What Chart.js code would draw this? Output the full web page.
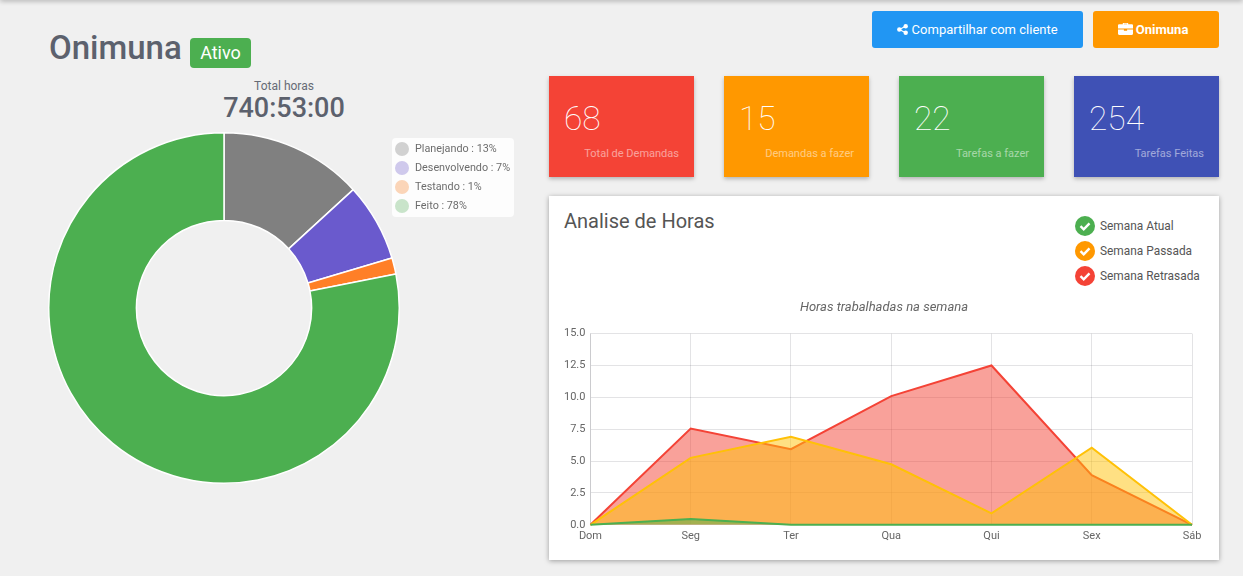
<!DOCTYPE html>
<html lang="pt"><head><meta charset="utf-8">
<style>
html,body{margin:0;padding:0;width:1243px;height:576px;overflow:hidden;background:#f0f0f0;font-family:Roboto,sans-serif;color:#555}
.a{position:absolute;white-space:nowrap}
#bar{position:absolute;left:0;right:0;top:-4px;height:4px;box-shadow:0 1px 5px rgba(0,0,0,.3)}
.btn{position:absolute;top:11px;height:37px;line-height:37px;border-radius:3px;color:#fff;font-size:13px;text-align:center}
.tile{position:absolute;top:76px;width:145px;height:101px;box-shadow:0 2px 4px rgba(0,0,0,.25);color:#fff}
.tile .n{position:absolute;left:15px;top:22px;font-size:33.5px;font-weight:100;line-height:42px;letter-spacing:0}
.tile .l{position:absolute;right:15px;top:71px;font-size:11px;line-height:14px;opacity:.5;white-space:nowrap}
#legend{position:absolute;left:392px;top:138px;width:122px;height:79px;background:#fff;border-radius:4px;opacity:.85;font-size:10.8px;color:#555}
#legend div{position:absolute;left:0;height:19px;line-height:19px;white-space:nowrap}
#legend i{position:absolute;left:3px;top:3px;width:14px;height:14px;border-radius:50%}
#legend span{position:absolute;left:23px;top:0}
#card{position:absolute;left:549px;top:196px;width:670px;height:364px;background:#fff;box-shadow:0 1px 5px rgba(0,0,0,.35)}
.chk{position:absolute;left:526px;width:20px;height:20px}
.cl{position:absolute;left:551px;font-size:11.9px;color:#555;line-height:14px;white-space:nowrap}
</style></head><body>
<div id="bar"></div>
<div class="a" style="left:49px;top:28px;font-size:33px;font-weight:500;line-height:40px;color:#5c616d">Onimuna</div>
<div class="a" style="left:190px;top:38px;width:61px;height:30px;line-height:30px;background:#4CAF50;border-radius:4px;color:#fff;font-size:18px;text-align:center">Ativo</div>
<div class="a" style="left:124px;width:320px;text-align:center;top:79px;font-size:12px;line-height:14px;color:#666b75">Total horas</div>
<div class="a" style="left:124px;width:320px;text-align:center;top:91px;font-size:27px;font-weight:500;line-height:34px;color:#5c616d">740:53:00</div>
<div class="btn" style="left:872px;width:211px;background:#2196F3"><svg width="11" height="11" viewBox="0 0 12 12" style="vertical-align:-1px"><circle cx="2.5" cy="6" r="2.4" fill="#fff"/><circle cx="9.5" cy="2.5" r="2.4" fill="#fff"/><circle cx="9.5" cy="9.5" r="2.4" fill="#fff"/><path d="M2.5 6L9.5 2.5M2.5 6L9.5 9.5" stroke="#fff" stroke-width="1.2"/></svg> Compartilhar com cliente</div>
<div class="btn" style="left:1093px;width:120px;padding-right:6px;background:#FF9800;font-weight:700;font-size:13px"><svg width="15" height="13" viewBox="0 0 14 12" style="vertical-align:-1px"><path d="M4.5 2V.8h5V2h3.5a1 1 0 0 1 1 1v3H0V3a1 1 0 0 1 1-1zM5.5 2h3V1.6h-3zM0 7h5.5v1h3V7H14v4a1 1 0 0 1-1 1H1a1 1 0 0 1-1-1z" fill="#fff"/></svg> Onimuna</div>
<div class="tile" style="left:549px;background:#F44336"><div class="n">68</div><div class="l">Total de Demandas</div></div>
<div class="tile" style="left:724px;background:#FF9800"><div class="n">15</div><div class="l">Demandas a fazer</div></div>
<div class="tile" style="left:899px;background:#4CAF50"><div class="n">22</div><div class="l">Tarefas a fazer</div></div>
<div class="tile" style="left:1074px;background:#3F51B5"><div class="n">254</div><div class="l">Tarefas Feitas</div></div>
<div class="a" style="left:44px;top:128px;width:360px;height:360px"><canvas id="donut"></canvas></div>
<div id="legend"></div>
<div id="card">
<div class="a" style="left:15px;top:13px;font-size:20px;line-height:24px;color:#555">Analise de Horas</div>
<div id="cleg"></div>
<div class="a" style="left:0;top:0;width:670px;height:364px"><canvas id="line"></canvas></div>
</div>
<script src="https://cdn.jsdelivr.net/npm/chart.js@4"></script>
<script>
const donutLabels=['Planejando','Desenvolvendo','Testando','Feito'];
const donutValues=[13.2,7.2,1.5,78.1];
const donutPercent=[13,7,1,78];
const donutColors=['#808080','#6A5ACD','#FF7F27','#4CAF50'];
const legendColors=['#cccccc','#c9c2ec','#fdd0ae','#c2e2c4'];
const weekDays=['Dom','Seg','Ter','Qua','Qui','Sex','Sáb'];
const semanaAtual=[0,0.45,0,0,0,0,0];
const semanaPassada=[0,5.25,6.9,4.75,0.9,6.05,0];
const semanaRetrasada=[0,7.55,5.93,10.1,12.5,3.9,0];
const yTicks=['0.0','2.5','5.0','7.5','10.0','12.5','15.0'];
const weekLegend=[['Semana Atual','#4CAF50'],['Semana Passada','#FF9800'],['Semana Retrasada','#F44336']];

const lg=document.getElementById('legend');
donutLabels.forEach((n,i)=>{const d=document.createElement('div');d.style.top=(1+19*i)+'px';d.style.width='100%';
d.innerHTML='<i style="background:'+legendColors[i]+'"></i><span>'+n+' : '+donutPercent[i]+'%</span>';lg.appendChild(d);});
const cl=document.getElementById('cleg');
weekLegend.forEach(([n,c],i)=>{const t=20+25*i;
cl.insertAdjacentHTML('beforeend','<svg class="chk" style="top:'+t+'px" viewBox="0 0 20 20"><circle cx="10" cy="10" r="10" fill="'+c+'"/><path d="M5.5 10.2l3.2 3.2 5.8-6" fill="none" stroke="#fff" stroke-width="2.4"/></svg><div class="cl" style="top:'+(t+3)+'px">'+n+'</div>');});

Chart.defaults.font.family='Roboto, sans-serif';
Chart.defaults.animation=false;
new Chart(document.getElementById('donut'),{type:'doughnut',
data:{labels:donutLabels,datasets:[{data:donutValues,backgroundColor:donutColors,borderColor:'#fff',borderWidth:1.5}]},
options:{responsive:true,maintainAspectRatio:false,cutout:'50%',layout:{padding:4},plugins:{legend:{display:false},tooltip:{enabled:false}}}});

const gridColor='rgba(0,0,20,.11)';
new Chart(document.getElementById('line'),{type:'line',
data:{labels:weekDays,datasets:[
{label:'Semana Atual',data:semanaAtual,borderColor:'#4CAF50',backgroundColor:'rgba(76,175,80,.5)',fill:true,clip:false},
{label:'Semana Passada',data:semanaPassada,borderColor:'#FFC107',backgroundColor:'rgba(255,193,7,.5)',fill:true,clip:false},
{label:'Semana Retrasada',data:semanaRetrasada,borderColor:'#F44336',backgroundColor:'rgba(244,67,54,.5)',fill:true,clip:false}]},
options:{responsive:true,maintainAspectRatio:false,
layout:{padding:{left:10,right:10,top:104,bottom:12}},
elements:{line:{tension:0,borderWidth:2},point:{radius:0}},
scales:{
x:{grid:{color:gridColor,drawTicks:false},ticks:{color:'#666',font:{size:11},maxRotation:0,autoSkip:false,padding:5},border:{color:gridColor}},
y:{min:0,max:15,grid:{color:gridColor,drawTicks:false},border:{color:gridColor},
ticks:{stepSize:2.5,color:'#666',font:{size:11},padding:5,callback:(v)=>yTicks[Math.round(v/2.5)]}},
yPad:{position:'right',grid:{display:false},border:{display:false},ticks:{display:false},afterFit(s){s.width=17;}}},
plugins:{legend:{display:false},tooltip:{enabled:false},
title:{display:true,text:'Horas trabalhadas na semana',color:'#666',font:{size:13,style:'italic',weight:'normal'},padding:{top:0,bottom:18}}}}});
</script>
</body></html>
